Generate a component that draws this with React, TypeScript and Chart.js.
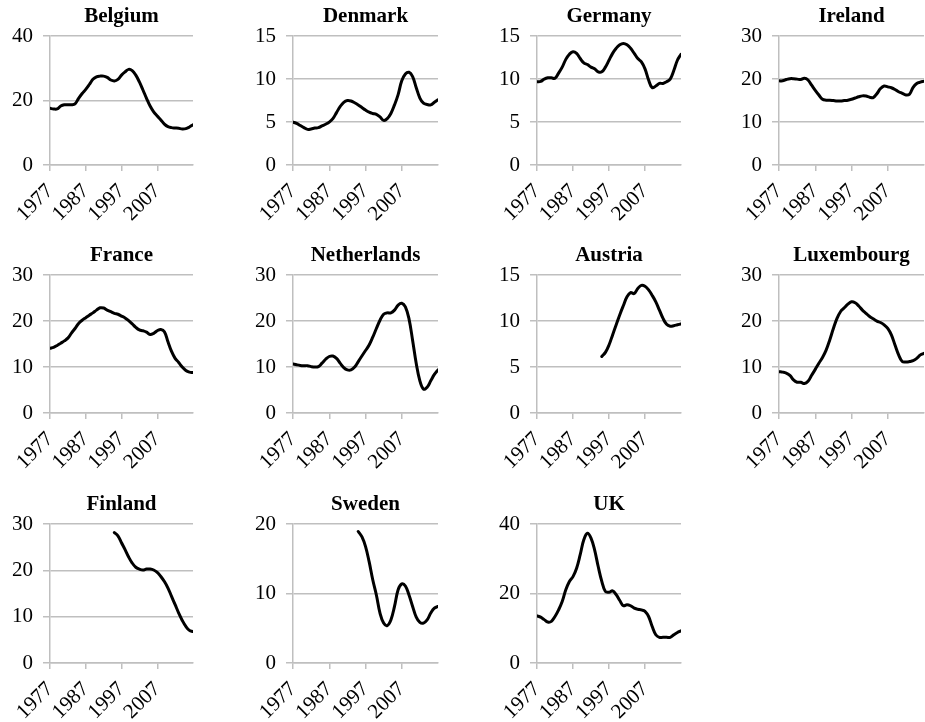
import React, { useEffect, useRef } from 'react';
import { Chart, registerables } from 'chart.js';

Chart.register(...registerables);

const years = [
  1977, 1978, 1979, 1980, 1981, 1982, 1983, 1984, 1985, 1986,
  1987, 1988, 1989, 1990, 1991, 1992, 1993, 1994, 1995, 1996,
  1997, 1998, 1999, 2000, 2001, 2002, 2003, 2004, 2005, 2006,
  2007, 2008, 2009, 2010, 2011, 2012, 2013, 2014, 2015, 2016, 2017,
];
const yearTicks = [1977, 1987, 1997, 2007];

const belgium = [17.6, 17.4, 17.4, 18.3, 18.7, 18.7, 18.7, 19.0, 20.7, 22.2, 23.5, 25.0, 26.6, 27.4, 27.6, 27.6, 27.2, 26.4, 26.1, 26.6, 27.9, 28.9, 29.7, 29.3, 27.9, 25.8, 23.3, 20.7, 18.3, 16.5, 15.2, 14.0, 12.7, 11.9, 11.6, 11.5, 11.4, 11.2, 11.3, 11.8, 12.5];
const denmark = [5.0, 4.85, 4.6, 4.35, 4.15, 4.2, 4.3, 4.35, 4.55, 4.75, 5.0, 5.4, 6.1, 6.8, 7.3, 7.5, 7.45, 7.25, 7.0, 6.7, 6.4, 6.15, 6.0, 5.9, 5.6, 5.2, 5.4, 6.0, 7.0, 8.2, 9.8, 10.6, 10.8, 10.3, 9.0, 7.8, 7.2, 7.05, 7.0, 7.3, 7.6];
const germany = [9.7, 9.73, 10.0, 10.15, 10.15, 10.1, 10.7, 11.4, 12.3, 12.9, 13.2, 13.0, 12.4, 11.9, 11.7, 11.4, 11.2, 10.85, 10.85, 11.4, 12.2, 13.0, 13.6, 14.0, 14.15, 14.0, 13.6, 13.0, 12.4, 12.0, 11.2, 9.9, 9.0, 9.2, 9.5, 9.5, 9.7, 10.0, 11.0, 12.2, 12.9];
const ireland = [19.6, 19.6, 19.9, 20.1, 20.1, 20.0, 19.9, 20.2, 19.8, 18.6, 17.4, 16.3, 15.3, 15.1, 15.1, 15.0, 14.9, 14.9, 15.0, 15.1, 15.3, 15.6, 15.9, 16.1, 16.05, 15.8, 15.7, 16.6, 17.8, 18.4, 18.2, 18.0, 17.6, 17.05, 16.7, 16.3, 16.5, 18.1, 19.0, 19.3, 19.5];
const france = [14.1, 14.3, 14.7, 15.2, 15.7, 16.3, 17.4, 18.4, 19.5, 20.2, 20.75, 21.3, 21.8, 22.4, 22.9, 22.85, 22.4, 22.05, 21.7, 21.5, 21.1, 20.7, 20.1, 19.4, 18.65, 18.1, 17.9, 17.6, 17.1, 17.35, 17.9, 18.2, 17.7, 15.5, 13.4, 11.9, 11.0, 10.0, 9.25, 8.9, 8.8];
const netherlands = [10.7, 10.5, 10.35, 10.3, 10.3, 10.1, 10.0, 10.1, 10.85, 11.7, 12.3, 12.4, 11.9, 10.85, 9.9, 9.4, 9.4, 10.0, 11.2, 12.4, 13.6, 14.8, 16.5, 18.4, 20.2, 21.5, 21.8, 21.8, 22.4, 23.5, 23.9, 23.1, 20.5, 15.8, 10.8, 7.0, 5.2, 5.6, 7.0, 8.4, 9.4];
const austria = [null, null, null, null, null, null, null, null, null, null, null, null, null, null, null, null, null, null, 6.15, 6.6, 7.4, 8.5, 9.6, 10.7, 11.7, 12.65, 13.1, 13.0, 13.55, 13.9, 13.8, 13.4, 12.8, 12.1, 11.2, 10.3, 9.65, 9.45, 9.5, 9.6, 9.7];
const luxembourg = [9.0, 8.9, 8.7, 8.2, 7.2, 6.7, 6.7, 6.4, 6.9, 8.2, 9.5, 10.85, 12.1, 13.7, 15.9, 18.4, 20.6, 22.1, 22.9, 23.7, 24.2, 24.0, 23.3, 22.4, 21.7, 21.0, 20.5, 20.0, 19.7, 19.2, 18.4, 17.0, 14.8, 12.65, 11.2, 11.1, 11.2, 11.4, 11.9, 12.65, 13.0];
const finland = [null, null, null, null, null, null, null, null, null, null, null, null, null, null, null, null, null, null, 28.2, 27.5, 26.0, 24.5, 22.9, 21.6, 20.7, 20.3, 20.1, 20.3, 20.3, 20.1, 19.6, 18.7, 17.6, 16.2, 14.4, 12.6, 10.8, 9.2, 7.9, 7.05, 6.8];
const sweden = [null, null, null, null, null, null, null, null, null, null, null, null, null, null, null, null, null, null, 18.95, 18.2, 16.8, 14.6, 12.0, 9.8, 7.2, 5.75, 5.4, 6.2, 8.15, 10.55, 11.4, 11.1, 9.8, 8.15, 6.6, 5.85, 5.75, 6.2, 7.2, 7.9, 8.15];
const uk = [13.6, 13.2, 12.5, 11.8, 12.0, 13.4, 15.3, 17.7, 21.1, 23.5, 24.9, 27.3, 31.2, 35.5, 37.4, 36.0, 32.6, 27.8, 23.5, 20.6, 20.4, 20.8, 19.7, 18.0, 16.5, 16.8, 16.5, 15.8, 15.5, 15.3, 14.9, 13.4, 10.5, 8.15, 7.4, 7.4, 7.4, 7.4, 8.15, 8.8, 9.3];

const titles = ['Belgium', 'Denmark', 'Germany', 'Ireland', 'France', 'Netherlands', 'Austria', 'Luxembourg', 'Finland', 'Sweden', 'UK'];
const seriesList = [belgium, denmark, germany, ireland, france, netherlands, austria, luxembourg, finland, sweden, uk];
const yMaxes = [40, 15, 15, 30, 30, 30, 15, 30, 30, 20, 40];
const ySteps = [20, 5, 5, 10, 10, 10, 5, 10, 10, 10, 20];

// layout (pixels)
const colAxisX = [50, 293, 537, 779];
const colPlotW = [143, 145, 144, 145];
const rowPlotTop = [36, 275, 524];
const rowPlotH = [129, 138, 139];
const Y_W = 50;
const TITLE_H = 36;
const X_H = 64;
const RPAD = 4;

const FONT = "'Liberation Serif', 'Times New Roman', serif";
const GRID = '#bfbfbf';

type PanelProps = {
  title: string;
  values: (number | null)[];
  yMax: number;
  yStep: number;
  left: number;
  top: number;
  width: number;
  height: number;
};

function Panel({ title, values, yMax, yStep, left, top, width, height }: PanelProps) {
  const ref = useRef<HTMLCanvasElement>(null);
  useEffect(() => {
    const chart = new Chart(ref.current as HTMLCanvasElement, {
      type: 'line',
      data: {
        datasets: [
          {
            data: years.map((yr, i) => ({ x: yr, y: values[i] })) as any,
            borderColor: '#000',
            borderWidth: 3,
            tension: 0.4,
            pointRadius: 0,
            pointHoverRadius: 0,
            spanGaps: false,
            fill: false,
            borderCapStyle: 'round',
            borderJoinStyle: 'round',
          },
        ],
      },
      options: {
        responsive: false,
        animation: false,
        events: [],
        layout: { padding: { left: 0, right: RPAD, top: 0, bottom: 0 } },
        plugins: {
          legend: { display: false },
          tooltip: { enabled: false },
          title: {
            display: true,
            text: title,
            fullSize: false,
            color: '#000',
            font: { family: FONT, size: 21, weight: 'bold', lineHeight: 1.2 },
            padding: { top: 4, bottom: 7 },
          },
        },
        scales: {
          x: {
            type: 'linear',
            min: 1977,
            max: 2017,
            afterBuildTicks: (s: any) => {
              s.ticks = yearTicks.map((v) => ({ value: v }));
            },
            afterFit: (s: any) => {
              s.height = X_H;
            },
            grid: {
              display: true,
              drawOnChartArea: false,
              drawTicks: true,
              tickLength: 6,
              color: GRID,
              lineWidth: 1.5,
            },
            border: { display: true, color: GRID, width: 1.5 },
            ticks: {
              autoSkip: false,
              minRotation: 45,
              maxRotation: 45,
              padding: 8,
              color: '#000',
              font: { family: FONT, size: 21 },
              callback: (v: any) => String(v),
            },
          },
          y: {
            min: 0,
            max: yMax,
            afterFit: (s: any) => {
              s.width = Y_W;
            },
            grid: {
              display: true,
              drawTicks: true,
              tickLength: 7,
              color: GRID,
              lineWidth: 1.5,
            },
            border: { display: true, color: GRID, width: 1.5 },
            ticks: {
              stepSize: yStep,
              padding: 10,
              color: '#000',
              font: { family: FONT, size: 21 },
              callback: (v: any) => String(v),
            },
          },
        },
      },
    } as any);
    return () => chart.destroy();
  }, []);
  return (
    <canvas
      ref={ref}
      width={width}
      height={height}
      style={{ position: 'absolute', left, top, width, height }}
    />
  );
}

export default function App() {
  return (
    <div
      style={{
        position: 'fixed',
        left: 0,
        top: 0,
        width: 925,
        height: 722,
        overflow: 'hidden',
        background: '#fff',
      }}
    >
      {titles.map((t, i) => {
        const col = i % 4;
        const row = Math.floor(i / 4);
        const left = colAxisX[col] - Y_W;
        const top = rowPlotTop[row] - TITLE_H;
        const width = Y_W + colPlotW[col] + RPAD;
        const height = TITLE_H + rowPlotH[row] + X_H;
        return (
          <Panel
            key={t}
            title={t}
            values={seriesList[i]}
            yMax={yMaxes[i]}
            yStep={ySteps[i]}
            left={left}
            top={top}
            width={width}
            height={height}
          />
        );
      })}
    </div>
  );
}
